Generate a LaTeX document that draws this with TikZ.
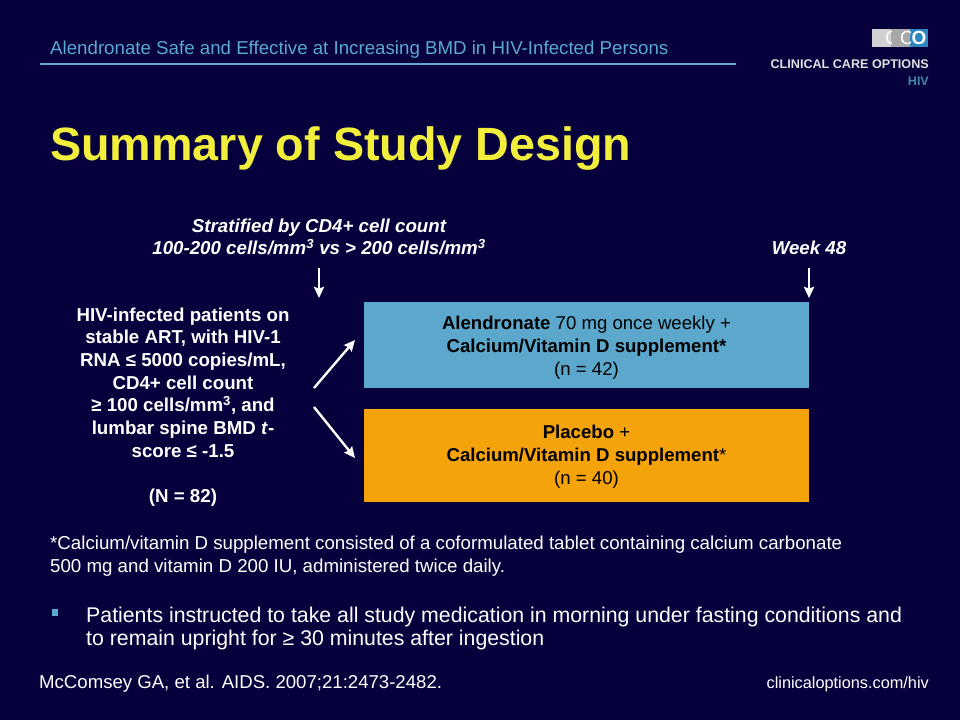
\documentclass[tikz,border=0pt]{standalone}
\usepackage{fontspec}
\setmainfont{Liberation Sans}
\usetikzlibrary{arrows.meta}
\definecolor{slidebg}{HTML}{06003C}
\definecolor{rulecol}{HTML}{5AA9D0}
\definecolor{titlecol}{HTML}{F2EE3C}
\definecolor{armblue}{HTML}{5BA8CC}
\definecolor{armorange}{HTML}{F5A30A}
\definecolor{logoblue}{HTML}{2E86C1}
\tikzset{
  whitetext/.style={text=white, inner sep=0pt, align=center},
  sizetext/.style={whitetext, font=\fontsize{18.7}{22.7}\selectfont\bfseries},
  armbox/.style={minimum width=445, minimum height=#1, inner sep=0pt, anchor=north west},
  armtext/.style={inner sep=0pt, align=center, text=black, font=\fontsize{18.6}{23}\selectfont},
  logoglyph/.style={text=white, inner sep=0pt, font=\fontsize{19}{20}\selectfont},
  flowarrow/.style={draw=white, line width=2.4, -{Stealth[length=11,width=10,inset=1.5]}}
}
\begin{document}
\begin{tikzpicture}[x=1pt, y=-1pt]
  \useasboundingbox (0,0) rectangle (960,720);
  \fill[slidebg] (0,0) rectangle (960,720);

  % header
  \node[anchor=west, inner sep=0pt, text=rulecol, font=\fontsize{18.7}{20}\selectfont] (subtitle) at (50,49.5)
    {Alendronate Safe and Effective at Increasing BMD in HIV-Infected Persons};
  \coordinate (ruleL) at (40,64);
  \coordinate (ruleR) at (736,64);
  \draw[rulecol, line width=1.5] (ruleL) -- (ruleR);
  \node[anchor=west, inner sep=0pt, text=titlecol, font=\fontsize{46.7}{50}\bfseries\selectfont] (title) at (50,149)
    {Summary of Study Design};

  % logo
  \fill[black!18] (872,29) rectangle (891,47);
  \fill[black!34] (891,29) rectangle (910,47);
  \fill[logoblue] (910,29) rectangle (928,47);
  \begin{scope}
    \clip (872,29) rectangle (891,47);
    \node[logoglyph] (logoA) at (892,38) {C};
  \end{scope}
  \begin{scope}
    \clip (891,29) rectangle (910,47);
    \node[logoglyph] (logoB) at (907,38) {C};
  \end{scope}
  \node[logoglyph, font=\fontsize{19}{20}\bfseries\selectfont] (logoC) at (919,38) {O};
  \node[anchor=east, inner sep=0pt, text=white!88!black, font=\fontsize{12.6}{14}\bfseries\selectfont] (logoname) at (929,64)
    {CLINICAL CARE OPTIONS};
  \node[anchor=east, inner sep=0pt, text=rulecol!80!black, font=\fontsize{12.5}{14}\bfseries\selectfont] (logohiv) at (929,81) {HIV};

  % design
  \node[sizetext, font=\fontsize{18.7}{22.5}\bfseries\itshape\selectfont] (strat) at (319,237)
    {Stratified by CD4+ cell count\\100-200 cells/mm\textsuperscript{3} vs > 200 cells/mm\textsuperscript{3}};
  \node[sizetext, font=\fontsize{18.7}{20}\bfseries\itshape\selectfont] (week) at (809,248) {Week 48};
  \node[sizetext] (patients) at (183,407)
    {HIV-infected patients on\\stable ART, with HIV-1\\RNA ≤ 5000 copies/mL,\\CD4+ cell count\\≥ 100 cells/mm\textsuperscript{3}, and\\lumbar spine BMD \textit{t}-\\score ≤ -1.5\\[22.7pt](N = 82)};
  \node[armbox=86, fill=armblue] (alen) at (364,302) {};
  \node[armbox=93, fill=armorange] (plac) at (364,409) {};
  \node[armtext] (alenText) at (586.5,347.5)
    {\textbf{Alendronate} 70 mg once weekly +\\\textbf{Calcium/Vitamin D supplement*}\\(n = 42)};
  \node[armtext] (placText) at (586.5,457)
    {\textbf{Placebo} +\\\textbf{Calcium/Vitamin D} \textbf{supplement}*\\(n = 40)};

  \coordinate (stratTop) at (319,268);
  \coordinate (stratEnd) at (319,298);
  \coordinate (weekTop) at (809,268);
  \coordinate (weekEnd) at (809,298);
  \coordinate (upA) at (314,388);
  \coordinate (upB) at (355,340);
  \coordinate (downA) at (314,407);
  \coordinate (downB) at (355,458);
  \draw[flowarrow] (stratTop) -- (stratEnd);
  \draw[flowarrow] (weekTop) -- (weekEnd);
  \draw[flowarrow] (upA) -- (upB);
  \draw[flowarrow] (downA) -- (downB);

  % notes
  \node[whitetext, anchor=north west, align=left, font=\fontsize{18.7}{23}\selectfont] (footnote) at (50,536)
    {*Calcium/vitamin D supplement consisted of a coformulated tablet containing calcium carbonate\\500 mg and vitamin D 200 IU, administered twice daily.};
  \fill[rulecol] (52,609) rectangle (58,616);
  \node[whitetext, anchor=north west, align=left, font=\fontsize{21.3}{23}\selectfont] (bullet) at (86,607)
    {Patients instructed to take all study medication in morning under fasting conditions and\\to remain upright for ≥ 30 minutes after ingestion};
  \node[anchor=west, inner sep=0pt, text=white, font=\fontsize{18.6}{20}\selectfont] (cite) at (39,684)
    {McComsey GA, et al. AIDS. 2007;21:2473-2482.};
  \node[anchor=east, inner sep=0pt, text=white, font=\fontsize{16.3}{18}\selectfont] (site) at (929,684)
    {clinicaloptions.com/hiv};
\end{tikzpicture}
\end{document}
